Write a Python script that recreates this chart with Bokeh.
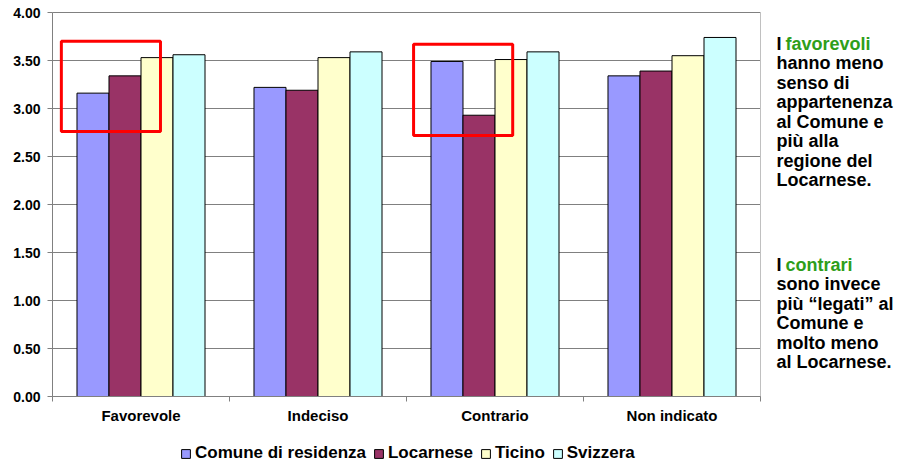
from bokeh.plotting import figure
from bokeh.models import (Range1d, FixedTicker, Legend, LegendItem,
                          NumeralTickFormatter, ColumnDataSource)
from bokeh.core.properties import value
from bokeh.embed import file_html
from bokeh.resources import INLINE

# ---- data ----
categories = ["Favorevole", "Indeciso", "Contrario", "Non indicato"]
series_names = ["Comune di residenza", "Locarnese", "Ticino", "Svizzera"]
comune = [3.16, 3.22, 3.49, 3.34]
locarnese = [3.34, 3.19, 2.93, 3.39]
ticino = [3.53, 3.53, 3.51, 3.55]
svizzera = [3.56, 3.59, 3.59, 3.74]
series_colors = ["#9999FF", "#993366", "#FFFFCC", "#CCFFFF"]
y_ticks = [0.0, 0.5, 1.0, 1.5, 2.0, 2.5, 3.0, 3.5, 4.0]

# highlighted regions (data units)
hl_left = [0.05, 2.04]
hl_right = [0.61, 2.60]
hl_bottom = [2.76, 2.72]
hl_top = [3.70, 3.67]

note1_head = ["I ", "favorevoli"]
note1 = ["hanno meno", "senso di", "appartenenza", "al Comune e",
         "più alla", "regione del", "Locarnese."]
note2_head = ["I ", "contrari"]
note2 = ["sono invece", "più “legati” al", "Comune e", "molto meno",
         "al Locarnese."]

FONT = "Liberation Sans"
GREEN = "#2e9e1a"

W, H = 899, 464
# frame covers the whole canvas; category axis spans 52..760 px, value axis 396..12 px
PXU_X = 177.0
PXU_Y = 96.0
NCAT = len(categories)
YMAX = y_ticks[-1]
x_range = Range1d(-52 / PXU_X, NCAT + (W - 760) / PXU_X)
y_range = Range1d(-(H - 396) / PXU_Y, YMAX + 12 / PXU_Y)

p = figure(width=W, height=H, output_backend="svg", toolbar_location=None,
           x_range=x_range, y_range=y_range, min_border=0,
           min_border_left=0, min_border_right=0, min_border_top=0,
           min_border_bottom=0, outline_line_color=None,
           background_fill_color="white", border_fill_color="white")
p.grid.visible = False

# value gridlines, limited to the chart area
p.segment(x0=[0] * len(y_ticks), x1=[NCAT] * len(y_ticks), y0=y_ticks, y1=y_ticks,
          line_color="#808080", line_width=1)
# light plot-area border on the right
p.segment(x0=[NCAT], x1=[NCAT], y0=[0], y1=[YMAX], line_color="#c0c0c0", line_width=1)

centers = [i + 0.5 for i in range(NCAT)]
bw = 0.1808
values = [comune, locarnese, ticino, svizzera]
renderers = []
for k, (vals, col) in enumerate(zip(values, series_colors)):
    off = (k - 1.5) * bw
    src = ColumnDataSource(dict(x=[c + off for c in centers], top=vals))
    r = p.vbar(x="x", top="top", width=bw, bottom=0, source=src,
               fill_color=col, line_color="black", line_width=1)
    renderers.append(r)

p.quad(left=hl_left, right=hl_right, bottom=hl_bottom, top=hl_top,
       fill_alpha=0, line_color="#FF0000", line_width=3)

ya = p.yaxis[0]
ya.fixed_location = 0
ya.bounds = (0, YMAX)
ya.ticker = FixedTicker(ticks=y_ticks)
ya.formatter = NumeralTickFormatter(format="0.00")
ya.axis_line_color = "#808080"
ya.major_tick_line_color = "#808080"
ya.major_tick_out = 5
ya.major_tick_in = 0
ya.minor_tick_line_color = None
ya.major_label_standoff = 7
ya.major_label_text_font = FONT
ya.major_label_text_font_style = "bold"
ya.major_label_text_font_size = "14px"
ya.major_label_text_color = "black"

xa = p.xaxis[0]
xa.fixed_location = 0
xa.bounds = (0, NCAT)
xa.ticker = FixedTicker(ticks=centers, minor_ticks=list(range(NCAT + 1)))
xa.major_label_overrides = {c: name for c, name in zip(centers, categories)}
xa.axis_line_color = "#808080"
xa.major_tick_out = 0
xa.major_tick_in = 0
xa.minor_tick_out = 5
xa.minor_tick_in = 0
xa.minor_tick_line_color = "#808080"
xa.major_label_standoff = 5
xa.major_label_text_font = FONT
xa.major_label_text_font_style = "bold"
xa.major_label_text_font_size = "15px"
xa.major_label_text_color = "black"

legend = Legend(items=[LegendItem(label=n, renderers=[r]) for n, r in zip(series_names, renderers)],
                orientation="horizontal", location=(180, 1),
                glyph_width=11, glyph_height=11, label_standoff=4, spacing=7,
                padding=0, margin=0, border_line_alpha=0, background_fill_alpha=0,
                label_text_font=FONT, label_text_font_style="bold",
                label_text_font_size="17px", label_text_color="black",
                label_height=18)
p.add_layout(legend)

# right-hand notes (drawn as text inside the frame, right of the chart area)
xI = NCAT + 16 / PXU_X
xG = NCAT + 25 / PXU_X
step = 19.5 / PXU_Y
txt_kw = dict(text_font=value(FONT), text_font_style="bold", text_font_size="18px",
              text_baseline="alphabetic", text_align="left")

y1 = (396 - 43.3) / PXU_Y
p.text(x=[xI], y=[y1], text=[note1_head[0]], text_color="black", **txt_kw)
p.text(x=[xG], y=[y1], text=[note1_head[1]], text_color=GREEN, **txt_kw)
p.text(x=[xI] * len(note1), y=[y1 - (i + 1) * step for i in range(len(note1))],
       text=note1, text_color="black", **txt_kw)

y2 = (396 - 264.0) / PXU_Y
p.text(x=[xI], y=[y2], text=[note2_head[0]], text_color="black", **txt_kw)
p.text(x=[xG], y=[y2], text=[note2_head[1]], text_color=GREEN, **txt_kw)
p.text(x=[xI] * len(note2), y=[y2 - (i + 1) * step for i in range(len(note2))],
       text=note2, text_color="black", **txt_kw)

open("out.html", "w").write(file_html(p, INLINE))
